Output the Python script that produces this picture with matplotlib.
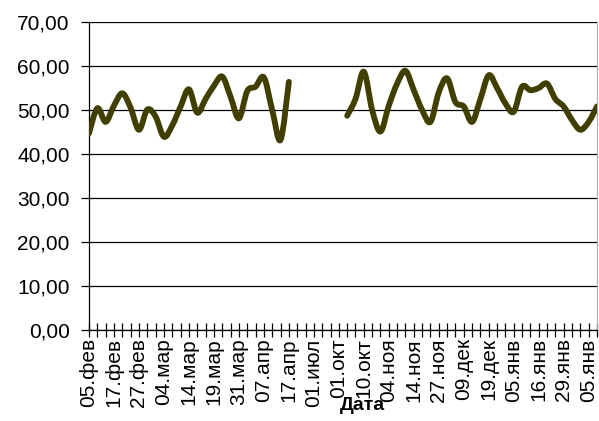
import numpy as np
import matplotlib.pyplot as plt
from matplotlib.path import Path
from matplotlib.patches import PathPatch
from matplotlib.ticker import FuncFormatter

plt.rcParams['font.family'] = ['Liberation Sans', 'DejaVu Sans']

# daily values, None where there is no measurement
values = [44.7, 50.4, 47.3, 51.0, 53.8, 50.5, 45.5, 50.1, 48.5, 43.9,
          46.5, 50.8, 54.7, 49.4, 52.5, 55.5, 57.6, 53.0, 48.1, 54.3,
          55.3, 57.4, 50.0, 43.2, 56.4, None, None, None, None, None,
          None, 48.7, 52.5, 58.7, 50.0, 45.1, 51.0, 56.0, 58.9, 54.5,
          50.0, 47.3, 54.0, 57.2, 51.8, 50.8, 47.3, 52.5, 57.9, 55.0,
          51.5, 49.6, 55.3, 54.5, 55.0, 56.0, 52.5, 50.8, 47.7, 45.5,
          47.3, 50.8]

# every third date is labelled on the axis
date_labels = ['05.фев', '17.фев', '27.фев', '04.мар', '14.мар', '19.мар',
               '31.мар', '07.апр', '17.апр', '01.июл', '01.окт', '10.окт',
               '04.ноя', '14.ноя', '27.ноя', '09.дек', '19.дек', '05.янв',
               '16.янв', '29.янв', '05.янв']
label_step = 3

line_color = '#403F00'


def smooth_path(xs, ys):
    # cubic bezier through the points (Catmull-Rom style control points)
    pts = np.column_stack([xs, ys])
    n = len(pts)
    verts = [pts[0]]
    codes = [Path.MOVETO]
    for i in range(n - 1):
        p0 = pts[i - 1] if i > 0 else pts[i]
        p1 = pts[i]
        p2 = pts[i + 1]
        p3 = pts[i + 2] if i + 2 < n else pts[i + 1]
        c1 = p1 + (p2 - p0) / 6.0
        c2 = p2 - (p3 - p1) / 6.0
        verts += [c1, c2, p2]
        codes += [Path.CURVE4] * 3
    return Path(verts, codes)


fig = plt.figure(figsize=(5.99, 4.21), dpi=100)
ax = fig.add_axes([89 / 599, 1 - 330 / 421, 508 / 599, 308 / 421])

x = np.arange(len(values))
y = np.array([np.nan if v is None else v for v in values])

# split into continuous runs and draw each as a smoothed curve
valid = ~np.isnan(y)
start = None
for i in range(len(y) + 1):
    ok = i < len(y) and valid[i]
    if ok and start is None:
        start = i
    elif not ok and start is not None:
        seg = slice(start, i)
        patch = PathPatch(smooth_path(x[seg], y[seg]), fill=False,
                          edgecolor=line_color, linewidth=4.2,
                          capstyle='round', joinstyle='round', zorder=3)
        ax.add_patch(patch)
        start = None

ax.set_xlim(0, len(values) - 1)
ax.set_ylim(0, 70)

ax.set_yticks(np.arange(0, 71, 10))
ax.yaxis.set_major_formatter(FuncFormatter(lambda v, p: f'{v:.2f}'.replace('.', ',')))
ax.yaxis.grid(True, color='black', linewidth=0.9)
ax.set_axisbelow(True)

ax.set_xticks(x, minor=True)
ax.set_xticks(x[::label_step])
ax.set_xticklabels(date_labels, rotation=90)

ax.tick_params(axis='y', direction='out', length=6, width=0.9, pad=8,
               labelsize=15, colors='black')
ax.tick_params(axis='x', which='both', direction='inout', length=10,
               width=0.9, pad=1, labelsize=15)
ax.tick_params(axis='x', which='minor', length=10)

ax.spines['top'].set_visible(False)
ax.spines['right'].set_color('#b0b0b0')
ax.spines['left'].set_linewidth(0.9)
ax.spines['bottom'].set_linewidth(0.9)

fig.text(362 / 599, 1 - 406 / 421, 'Дата', ha='center', va='center',
         fontsize=14, fontweight='bold')

fig.savefig('out.png', dpi=100)
